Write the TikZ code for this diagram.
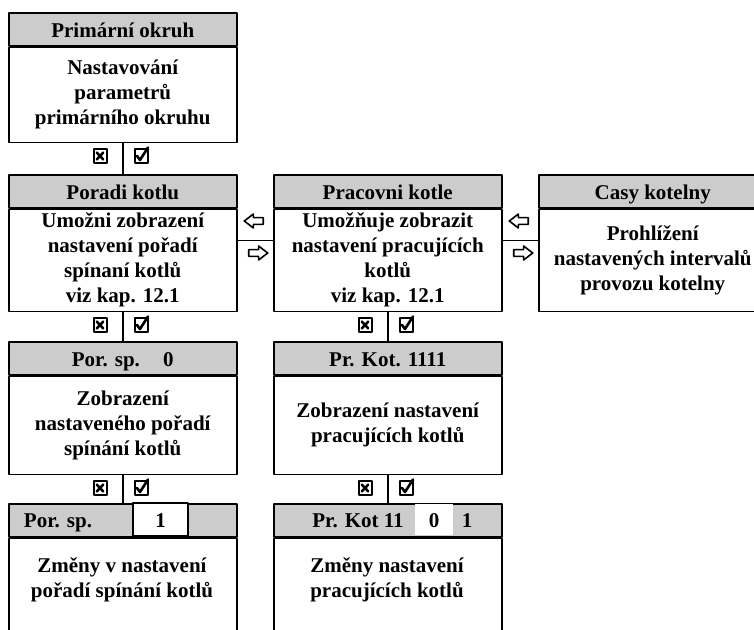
\documentclass[tikz,border=0pt]{standalone}
\usepackage{fontspec}
\setmainfont{Liberation Serif}
\usetikzlibrary{positioning,shapes.arrows}
\definecolor{headgray}{RGB}{204,204,204}
\tikzset{
  headtext/.style={text height=16pt, text depth=0pt, inner sep=0pt},
  headbox/.style={draw, line width=1.5pt, fill=headgray, minimum width=228pt, minimum height=33pt, headtext, anchor=north west},
  textbox/.style={draw, line width=1.5pt, fill=white, minimum width=228pt, inner sep=0pt, align=center},
  tickbox/.style={draw, line width=2pt, minimum width=13pt, minimum height=14pt, inner sep=0pt},
  hollow/.style={single arrow, draw, line width=1.6pt, inner sep=2.6pt, minimum height=19pt, single arrow head extend=3.6pt, single arrow tip angle=75}
}

\begin{document}
\begin{tikzpicture}[line cap=round,line join=round,x=1pt,y=-1pt,font=\bfseries\fontsize{21}{25}\selectfont]
    \useasboundingbox (0,0) rectangle (754,629);
    \clip (0,0) rectangle (754,629);
    \node[headbox] (h1) at (8,12) {Primární okruh};
    \node[textbox, minimum height=95pt, below=0pt of h1] (b1) {Nastavování\\parametrů\\primárního okruhu};
    \node[headbox] (h2a) at (8,174) {Poradi kotlu};
    \node[textbox, minimum height=102pt, below=0pt of h2a] (b2a) {Umožni zobrazení\\nastavení pořadí\\spínaní kotlů\\viz kap. 12.1};
    \node[headbox] (h2b) at (273,174) {Pracovni kotle};
    \node[textbox, minimum height=102pt, below=0pt of h2b] (b2b) {Umožňuje zobrazit\\nastavení pracujících\\kotlů\\viz kap. 12.1};
    \node[headbox] (h2c) at (538,174) {Casy kotelny};
    \node[textbox, minimum height=102pt, below=0pt of h2c] (b2c) {Prohlížení\\nastavených intervalů\\provozu kotelny};
    \node[headbox] (h3a) at (8,341) {Por. sp.\hspace{1.1em}0};
    \node[textbox, minimum height=98pt, below=0pt of h3a] (b3a) {Zobrazení\\nastaveného pořadí\\spínání kotlů};
    \node[headbox] (h3b) at (273,341) {Pr. Kot. 1111};
    \node[textbox, minimum height=98pt, below=0pt of h3b] (b3b) {Zobrazení nastavení\\pracujících kotlů};
    \node[headbox] (h4a) at (8,503) {};
    \node[textbox, minimum height=140pt, below=0pt of h4a] (b4a) {};
    \node[headtext] (k4a) at (58,519.5) {Por. sp.};
    \node[draw, line width=1.5pt, fill=white, minimum width=55pt, minimum height=33pt, headtext] (v4a) at (160.5,519.5) {1};
    \node (t4a) at (122,580) [align=center] {Změny v nastavení\\pořadí spínání kotlů};
    \node[headbox] (h4b) at (273,503) {};
    \node[textbox, minimum height=140pt, below=0pt of h4b] (b4b) {};
    \node[headtext] (k4b) at (358,519.5) {Pr. Kot 11};
    \node[fill=white, minimum width=38pt, minimum height=31.5pt, headtext] (v4b) at (434,519.5) {0};
    \node[headtext] (w4b) at (467,519.5) {1};
    \node (t4b) at (387,580) [align=center] {Změny nastavení\\pracujících kotlů};
    \draw [line width=1.5pt] (b1.south) -- (h2a.north);
    \draw [line width=1.5pt] (b2a.south) -- (h3a.north);
    \draw [line width=1.5pt] (b3a.south) -- (h4a.north);
    \draw [line width=1.5pt] (b2b.south) -- (h3b.north);
    \draw [line width=1.5pt] (b3b.south) -- (h4b.north);
    \draw [line width=1.5pt] ([yshift=20pt]b2a.east) -- ([yshift=20pt]b2b.west);
    \draw [line width=1.5pt] ([yshift=20pt]b2b.east) -- ([yshift=20pt]b2c.west);
    \node[tickbox] (n1) at (100,156) {};
    \node[tickbox] (y1) at (141,156) {};
    \node[tickbox] (n2a) at (100,325) {};
    \node[tickbox] (y2a) at (141,325) {};
    \node[tickbox] (n3a) at (100,488) {};
    \node[tickbox] (y3a) at (141,488) {};
    \node[tickbox] (n2b) at (365,325) {};
    \node[tickbox] (y2b) at (406,325) {};
    \node[tickbox] (n3b) at (365,488) {};
    \node[tickbox] (y3b) at (406,488) {};
    \foreach \n in {n1,n2a,n3a,n2b,n3b}
      \draw [line width=2.6pt] ([shift={(-3.2pt,-3.4pt)}]\n.center) -- ([shift={(3.2pt,3.4pt)}]\n.center)
                               ([shift={(-3.2pt,3.4pt)}]\n.center) -- ([shift={(3.2pt,-3.4pt)}]\n.center);
    \foreach \y in {y1,y2a,y3a,y2b,y3b}
      \draw [line width=2.6pt] ([shift={(-4pt,0pt)}]\y.center) -- ([shift={(-1pt,-4pt)}]\y.center) -- ([shift={(7pt,8.5pt)}]\y.center);
    \node[hollow, shape border rotate=180] (l1) at (256,221) {};
    \node[hollow] (r1) at (256,253) {};
    \node[hollow, shape border rotate=180] (l2) at (521,221) {};
    \node[hollow] (r2) at (521,253) {};
\end{tikzpicture}
\end{document}
